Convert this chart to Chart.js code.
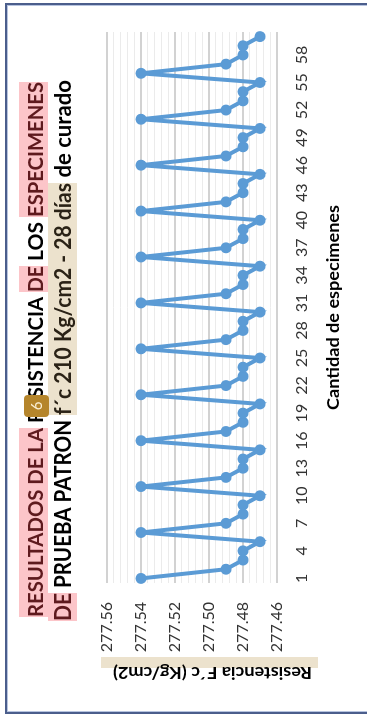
<!DOCTYPE html>
<html>
<head>
<meta charset="utf-8">
<script src="https://cdn.jsdelivr.net/npm/chart.js@4.4.1/dist/chart.umd.min.js"></script>
<style>
  html, body { margin: 0; padding: 0; background: #ffffff; width: 367px; height: 715px; overflow: hidden; }
  #frame { position: absolute; left: 5px; top: 3px; width: 420px; height: 707px;
           border: 2px solid #4b5e8c; box-shadow: inset 0 0 0 1px #b7c4df; }
  /* the chart is laid out landscape and turned a quarter turn to the left */
  #stage { position: absolute; left: 0; top: 0; width: 715px; height: 367px;
           transform-origin: 0 0; transform: translate(0, 715px) rotate(-90deg); }
</style>
</head>
<body>
<div id="frame"></div>
<div id="stage"><canvas id="c" width="715" height="367"></canvas></div>
<script>
// Specimen numbers (category axis)
const categories = [
  '1','2','3','4','5','6','7','8','9','10',
  '11','12','13','14','15','16','17','18','19','20',
  '21','22','23','24','25','26','27','28','29','30',
  '31','32','33','34','35','36','37','38','39','40',
  '41','42','43','44','45','46','47','48','49','50',
  '51','52','53','54','55','56','57','58','59','60'
];

// Compressive strength f'c (Kg/cm2) per specimen
const resistencia = [
  277.54, 277.49, 277.48, 277.48, 277.47,
  277.54, 277.49, 277.48, 277.48, 277.47,
  277.54, 277.49, 277.48, 277.48, 277.47,
  277.54, 277.49, 277.48, 277.48, 277.47,
  277.54, 277.49, 277.48, 277.48, 277.47,
  277.54, 277.49, 277.48, 277.48, 277.47,
  277.54, 277.49, 277.48, 277.48, 277.47,
  277.54, 277.49, 277.48, 277.48, 277.47,
  277.54, 277.49, 277.48, 277.48, 277.47,
  277.54, 277.49, 277.48, 277.48, 277.47,
  277.54, 277.49, 277.48, 277.48, 277.47,
  277.54, 277.49, 277.48, 277.48, 277.47
];

// Value axis labels (major units) and range
const yTickLabels = ['277.46', '277.48', '277.50', '277.52', '277.54', '277.56'];
const yMin = 277.46;
const yMax = 277.56;
const minorPerMajor = 5;

// Texts
const titleLine1 = ['RESULTADOS DE LA', ' RESISTENCIA ', 'DE', ' LOS ', 'ESPECIMENES'];
const titleLine2 = ['DE', ' PRUEBA PATRON ', 'f´c 210 Kg/cm2 - 28 días', ' de curado'];
const xTitle = 'Cantidad de especimenes';
const yTitle = 'Resistencia F´c (Kg/cm2)';
const badgeText = '6';

// Layout of the two title lines: [start, end] along the line and highlight per run
const line1Layout = [
  { span: [98, 287], mark: 'pink' },
  { span: [287, 423], mark: null },
  { span: [423, 449], mark: 'pink' },
  { span: [449, 498], mark: null },
  { span: [498, 633], mark: 'pink' }
];
const line2Layout = [
  { span: [94, 122], mark: 'pink' },
  { span: [122, 300], mark: null },
  { span: [300, 532], mark: 'beige' },
  { span: [532, 635], mark: null }
];

const PINK = '#fcc5c9';
const PINK_TEXT = '#5e1a1e';
const BEIGE = '#ece2cd';
const BEIGE_TEXT = '#2a2216';
const LINE_BLUE = '#5b9bd5';

function drawFitted(ctx, text, x0, x1, baseline, font, color) {
  ctx.save();
  ctx.font = font;
  ctx.textAlign = 'left';
  ctx.textBaseline = 'alphabetic';
  const w = ctx.measureText(text).width;
  ctx.translate(x0, baseline);
  ctx.scale((x1 - x0) / w, 1);
  ctx.fillStyle = color;
  ctx.fillText(text, 0, 0);
  ctx.restore();
}

function drawTitleLine(ctx, runs, layout, top, bottom, baseline, font) {
  runs.forEach((t, i) => {
    const l = layout[i];
    if (l.mark) {
      ctx.fillStyle = l.mark === 'pink' ? PINK : BEIGE;
      ctx.fillRect(l.span[0], top, l.span[1] - l.span[0], bottom - top);
    }
  });
  runs.forEach((t, i) => {
    const l = layout[i];
    const color = l.mark === 'pink' ? PINK_TEXT : (l.mark === 'beige' ? BEIGE_TEXT : '#000000');
    drawFitted(ctx, t, l.span[0], l.span[1], baseline, font, color);
  });
}

function roundRect(ctx, x, y, w, h, r) {
  ctx.beginPath();
  ctx.moveTo(x + r, y);
  ctx.lineTo(x + w - r, y);
  ctx.quadraticCurveTo(x + w, y, x + w, y + r);
  ctx.lineTo(x + w, y + h - r);
  ctx.quadraticCurveTo(x + w, y + h, x + w - r, y + h);
  ctx.lineTo(x + r, y + h);
  ctx.quadraticCurveTo(x, y + h, x, y + h - r);
  ctx.lineTo(x, y + r);
  ctx.quadraticCurveTo(x, y, x + r, y);
  ctx.closePath();
}

const decorations = {
  id: 'decorations',
  afterDraw(chart) {
    const ctx = chart.ctx;
    const area = chart.chartArea;

    // Title, two lines with highlighted runs
    drawTitleLine(ctx, titleLine1, line1Layout, 19, 48, 43, '700 21px Lato');
    drawTitleLine(ctx, titleLine2, line2Layout, 48, 77, 71, '700 22px Lato');

    // Numbered badge over the first line
    ctx.save();
    roundRect(ctx, 298, 24, 22, 25, 4);
    ctx.fillStyle = '#b5852b';
    ctx.fill();
    ctx.font = '400 15px Lato';
    ctx.fillStyle = '#fbefd6';
    ctx.textAlign = 'center';
    ctx.textBaseline = 'middle';
    ctx.fillText(badgeText, 309, 37);
    ctx.restore();

    // Category axis title
    const cx = (area.left + area.right) / 2;
    const targetW = 205;
    drawFitted(ctx, xTitle, cx - targetW / 2, cx + targetW / 2, 339, '700 17px Lato', '#000000');

    // Value axis title with its highlight strip
    ctx.save();
    ctx.fillStyle = BEIGE;
    ctx.fillRect(47, 101, 11, 217);
    ctx.translate(48, 312);
    ctx.rotate(-Math.PI / 2);
    drawFitted(ctx, yTitle, 0, 199, 0, '700 17px Lato', '#000000');
    ctx.restore();
  }
};

const ctx = document.getElementById('c').getContext('2d');
new Chart(ctx, {
  type: 'line',
  data: {
    labels: categories,
    datasets: [{
      data: resistencia,
      borderColor: LINE_BLUE,
      backgroundColor: LINE_BLUE,
      borderWidth: 4,
      pointRadius: 5.5,
      pointBorderWidth: 0,
      pointBackgroundColor: LINE_BLUE,
      tension: 0,
      fill: false
    }]
  },
  options: {
    responsive: false,
    animation: false,
    devicePixelRatio: 1,
    layout: { padding: { left: 0, top: 107, right: 32, bottom: 0 } },
    plugins: {
      legend: { display: false },
      tooltip: { enabled: false },
      title: { display: false }
    },
    scales: {
      x: {
        type: 'category',
        offset: true,
        grid: { display: false },
        border: { display: false },
        ticks: {
          autoSkip: false,
          maxRotation: 0,
          minRotation: 0,
          padding: 7,
          color: '#333333',
          font: { family: 'Lato', size: 16 },
          callback: (v, i) => (i % 3 === 0 ? categories[i] : '')
        },
        afterFit: (scale) => { scale.height = 90; }
      },
      y: {
        min: yMin,
        max: yMax,
        border: { display: false },
        grid: {
          drawTicks: false,
          color: (c) => (c.index % minorPerMajor === 0 ? '#d2d2d2' : '#ebebeb'),
          lineWidth: (c) => (c.index % minorPerMajor === 0 ? 2 : 1)
        },
        ticks: {
          autoSkip: false,
          padding: 19,
          color: '#333333',
          font: { family: 'Lato', size: 16 },
          callback: (v, i) => (i % minorPerMajor === 0 ? yTickLabels[i / minorPerMajor] : '')
        },
        afterBuildTicks: (scale) => {
          const n = (yTickLabels.length - 1) * minorPerMajor;
          const t = [];
          for (let i = 0; i <= n; i++) t.push({ value: yMin + (yMax - yMin) * i / n });
          scale.ticks = t;
        },
        afterFit: (scale) => { scale.width = 132; }
      }
    }
  },
  plugins: [decorations]
});
</script>
</body>
</html>
